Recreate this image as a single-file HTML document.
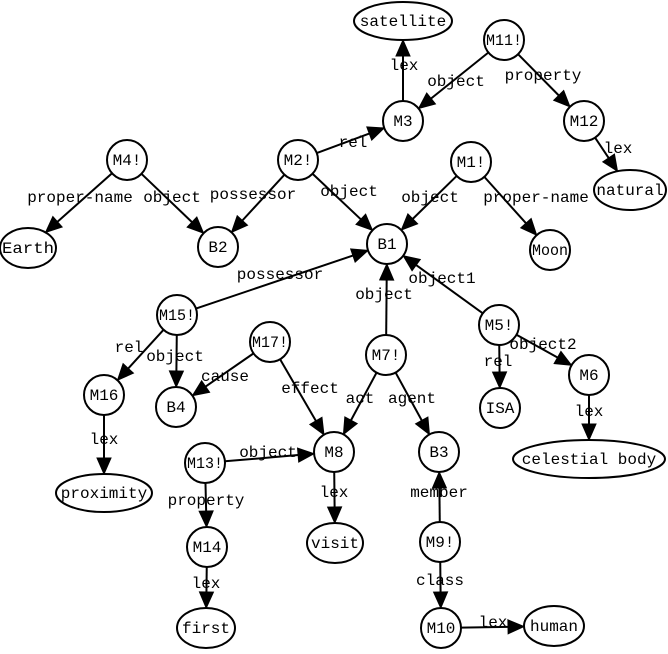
<!DOCTYPE html>
<html><head><meta charset="utf-8"><style>
html,body{margin:0;padding:0;background:#fff;}
svg text{font-family:"Liberation Mono",monospace;font-size:16px;fill:#000;}
</style></head><body>
<svg id="s" width="668" height="649" xmlns="http://www.w3.org/2000/svg">
<g id="edges" stroke="#000" stroke-width="2" fill="#000"></g>
<g id="nodes" fill="#fff" stroke="#000" stroke-width="2">
<ellipse cx="403" cy="21" rx="49" ry="19"/>
<circle cx="504" cy="40" r="20"/>
<circle cx="403" cy="121" r="20"/>
<circle cx="584" cy="121" r="20"/>
<ellipse cx="630" cy="190" rx="36" ry="20"/>
<circle cx="127" cy="160" r="20"/>
<circle cx="298" cy="160" r="20"/>
<circle cx="471" cy="162" r="20"/>
<ellipse cx="28" cy="248" rx="28" ry="20"/>
<circle cx="218" cy="247" r="20"/>
<circle cx="387" cy="244" r="20"/>
<circle cx="550" cy="250" r="20"/>
<circle cx="177" cy="315" r="20"/>
<circle cx="270" cy="342" r="20"/>
<circle cx="386" cy="355" r="20"/>
<circle cx="499" cy="325" r="20"/>
<circle cx="104" cy="395" r="20"/>
<circle cx="176" cy="407" r="20"/>
<circle cx="589" cy="375" r="20"/>
<circle cx="500" cy="408" r="20"/>
<circle cx="334" cy="452" r="20"/>
<circle cx="439" cy="452" r="20"/>
<ellipse cx="589" cy="459" rx="76" ry="19"/>
<circle cx="205" cy="463" r="20"/>
<ellipse cx="104" cy="493" rx="48" ry="19"/>
<ellipse cx="335" cy="543" rx="28" ry="20"/>
<circle cx="207" cy="547" r="20"/>
<circle cx="440" cy="542" r="20"/>
<ellipse cx="206" cy="628" rx="29" ry="20"/>
<circle cx="441" cy="628" r="20"/>
<ellipse cx="554" cy="626" rx="30" ry="20"/>
</g>
<g text-anchor="middle">
<text x="403" y="26">satellite</text>
<text x="504" y="45" textLength="36" lengthAdjust="spacingAndGlyphs">M11!</text>
<text x="403" y="126">M3</text>
<text x="584" y="126">M12</text>
<text x="630" y="195">natural</text>
<text x="127" y="165">M4!</text>
<text x="298" y="165">M2!</text>
<text x="471" y="167">M1!</text>
<text x="28" y="253" textLength="52" lengthAdjust="spacingAndGlyphs">Earth</text>
<text x="218" y="252">B2</text>
<text x="387" y="249">B1</text>
<text x="550" y="255" textLength="36" lengthAdjust="spacingAndGlyphs">Moon</text>
<text x="177" y="320" textLength="36" lengthAdjust="spacingAndGlyphs">M15!</text>
<text x="270" y="347" textLength="36" lengthAdjust="spacingAndGlyphs">M17!</text>
<text x="386" y="360">M7!</text>
<text x="499" y="330">M5!</text>
<text x="104" y="400">M16</text>
<text x="176" y="412">B4</text>
<text x="589" y="380">M6</text>
<text x="500" y="413">ISA</text>
<text x="334" y="457">M8</text>
<text x="439" y="457">B3</text>
<text x="589" y="464">celestial body</text>
<text x="205" y="468" textLength="36" lengthAdjust="spacingAndGlyphs">M13!</text>
<text x="104" y="498">proximity</text>
<text x="335" y="548">visit</text>
<text x="207" y="552">M14</text>
<text x="440" y="547">M9!</text>
<text x="206" y="633">first</text>
<text x="441" y="633">M10</text>
<text x="554" y="631">human</text>
</g>
<g text-anchor="middle">
<text x="404" y="70">lex</text>
<text x="456" y="86">object</text>
<text x="543" y="80">property</text>
<text x="353" y="147">rel</text>
<text x="618" y="153">lex</text>
<text x="80" y="202">proper-name</text>
<text x="172" y="202">object</text>
<text x="253" y="199">possessor</text>
<text x="349" y="196">object</text>
<text x="430" y="202">object</text>
<text x="536" y="202">proper-name</text>
<text x="280" y="279">possessor</text>
<text x="384" y="299">object</text>
<text x="442" y="283">object1</text>
<text x="129" y="352">rel</text>
<text x="175" y="361">object</text>
<text x="225" y="381">cause</text>
<text x="310" y="393">effect</text>
<text x="360" y="403">act</text>
<text x="412" y="403">agent</text>
<text x="498" y="366">rel</text>
<text x="543" y="349">object2</text>
<text x="589" y="416">lex</text>
<text x="104" y="444">lex</text>
<text x="268" y="457">object</text>
<text x="334" y="497">lex</text>
<text x="439" y="497">member</text>
<text x="206" y="505">property</text>
<text x="206" y="588">lex</text>
<text x="440" y="585">class</text>
<text x="493" y="627">lex</text>
</g>
</svg>
<script>
var N={sat:[403,21,49,19],M11:[504,40,20,20],M3:[403,121,20,20],M12:[584,121,20,20],nat:[630,190,36,20],
M4:[127,160,20,20],M2:[298,160,20,20],M1:[471,162,20,20],Ea:[28,248,28,20],B2:[218,247,20,20],B1:[387,244,20,20],
Moon:[550,250,20,20],M15:[177,315,20,20],M17:[270,342,20,20],M7:[386,355,20,20],M5:[499,325,20,20],M16:[104,395,20,20],
B4:[176,407,20,20],M6:[589,375,20,20],ISA:[500,408,20,20],M8:[334,452,20,20],B3:[439,452,20,20],cel:[589,459,76,19],
M13:[205,463,20,20],prox:[104,493,48,19],vis:[335,543,28,20],M14:[207,547,20,20],M9:[440,542,20,20],fir:[206,628,29,20],
M10:[441,628,20,20],hum:[554,626,30,20]};
var E=[["M3","sat"],["M11","M3"],["M11","M12"],["M2","M3"],["M12","nat"],["M4","Ea"],["M4","B2"],["M2","B2"],["M2","B1"],
["M1","B1"],["M1","Moon"],["M15","B1"],["M7","B1"],["M5","B1"],["M15","M16"],["M15","B4"],["M17","B4"],["M17","M8"],
["M7","M8"],["M7","B3"],["M5","ISA"],["M5","M6"],["M6","cel"],["M16","prox"],["M13","M8"],["M8","vis"],["M9","B3"],
["M13","M14"],["M14","fir"],["M9","M10"],["M10","hum"]];
function bd(n,dx,dy){var t=1/Math.sqrt(dx*dx/(n[2]*n[2])+dy*dy/(n[3]*n[3]));return [n[0]+dx*t,n[1]+dy*t];}
var g=document.getElementById("edges"),h="";
E.forEach(function(e){var a=N[e[0]],b=N[e[1]],dx=b[0]-a[0],dy=b[1]-a[1],L=Math.hypot(dx,dy),ux=dx/L,uy=dy/L;
var p=bd(a,dx,dy),q=bd(b,-dx,-dy),bx=q[0]-ux*16,by=q[1]-uy*16;
h+='<line x1="'+p[0]+'" y1="'+p[1]+'" x2="'+bx+'" y2="'+by+'"/>';
h+='<polygon stroke-width="1" points="'+q[0]+','+q[1]+' '+(bx-uy*7)+','+(by+ux*7)+' '+(bx+uy*7)+','+(by-ux*7)+'"/>';});
g.innerHTML=h;
</script>
</body></html>
